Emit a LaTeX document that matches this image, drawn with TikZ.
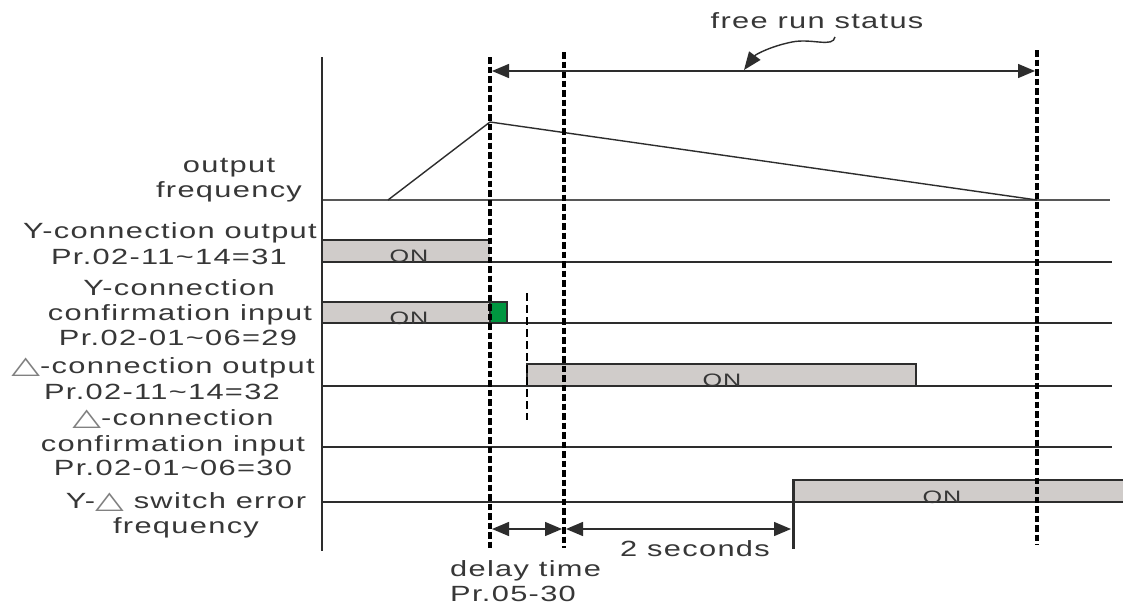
\documentclass[tikz,border=0pt]{standalone}
\usepackage{fontspec}
\usepackage{graphicx}
\setmainfont{Liberation Sans}[FakeStretch=1.4,LetterSpace=6]
\newfontfamily\symf{DejaVu Sans}
\usetikzlibrary{arrows.meta}
\definecolor{ink}{RGB}{45,45,45}
\definecolor{txt}{RGB}{55,55,55}
\definecolor{ongray}{RGB}{208,204,202}
\definecolor{ongreen}{RGB}{0,150,64}
\newcommand{\tri}{{\color{gray}\symf\scalebox{1.7}[1.1]{△}}}
\begin{document}
\begin{tikzpicture}[x=1pt,y=-1pt,
  lbl/.style={anchor=base,inner sep=0pt,text=txt,font=\fontsize{22}{26}\selectfont},
  onlbl/.style={anchor=base,inner sep=0pt,text=txt,font=\fontsize{18}{20}\selectfont},
  baseln/.style={draw=ink,line width=1.4pt},
  tdash/.style={draw=black,line width=4.5pt,dash pattern=on 6.5pt off 3pt},
  thdash/.style={draw=black,line width=1.5pt,dash pattern=on 8pt off 4pt},
  dimarrow/.style={draw=ink,line width=1.4pt,{Triangle[length=17pt,width=14pt]}-{Triangle[length=17pt,width=14pt]}},
]
\useasboundingbox (0,0) rectangle (1123,608);
\fill[white] (0,0) rectangle (1123,608);

% boxes
\fill[ongray] (322,240) rectangle (490,262);
\draw[ink,line width=1.4pt] (322,240) -- (490,240);
\fill[ongray] (322,302) rectangle (490,323);
\draw[ink,line width=1.4pt] (322,302) -- (490,302);
\draw[fill=ongreen,draw=ink,line width=1.4pt] (490,302) rectangle (507,323);
\fill[ongray] (527,364) rectangle (916,386);
\draw[ink,line width=1.4pt] (527,386) -- (527,364) -- (916,364) -- (916,386);
\fill[ongray] (793,480) rectangle (1123,502);
\draw[ink,line width=1.4pt] (793,480) -- (1123,480);

% baselines
\draw[baseln,draw=ink!80] (322,200) -- (1110,200);
\draw[baseln] (322,262) -- (1112,262);
\draw[baseln] (322,323) -- (1112,323);
\draw[baseln] (322,386) -- (1112,386);
\draw[baseln] (322,447) -- (1112,447);
\draw[baseln] (322,502) -- (1123,502);

% axis
\draw[ink,line width=2pt] (322,57) -- (322,551);

% output frequency curve
\draw[ink,line width=1.4pt] (388,200) -- (490,122) -- (1037,200);

% ON labels
\node[onlbl] (on1) at (409,262) {ON};
\node[onlbl] (on2) at (409,324) {ON};
\node[onlbl] (on3) at (722,386) {ON};
\node[onlbl] (on4) at (942,503) {ON};

% thin dashed
\draw[thdash] (527,293) -- (527,420);

% thick dashed
\draw[tdash] (490,57) -- (490,548);
\draw[tdash] (564,52) -- (564,548);
\draw[tdash] (1037,50) -- (1037,545);

% error switch vertical
\draw[ink,line width=3pt] (793,479) -- (793,549);

% free run arrow
\coordinate (fa) at (492,71);
\coordinate (fb) at (1035,71);
\draw[dimarrow] (fa) -- (fb);
\node[lbl] (frs) at (817,28) {free run status};
\draw[ink,line width=1.4pt,-{Triangle[length=18pt,width=14pt]}] (835,37) .. controls (833,48) and (812,38) .. (792,42) .. controls (772,46) and (756,54) .. (744,70);

% delay arrows
\coordinate (d1) at (492,529);
\coordinate (d2) at (562,529);
\coordinate (d3) at (566,529);
\coordinate (d4) at (791,529);
\draw[dimarrow] (d1) -- (d2);
\draw[dimarrow] (d3) -- (d4);
\node[lbl] (sec) at (695,556) {2 seconds};
\node[lbl,anchor=base west] (dly) at (450,576) {delay time};
\node[lbl,anchor=base west] (pr530) at (450,601) {Pr.05-30};

% left labels
\node[lbl] (l1a) at (229,172) {output};
\node[lbl] (l1b) at (229,197) {frequency};
\node[lbl] (l2a) at (170,238) {Y-connection output};
\node[lbl] (l2b) at (169,264) {Pr.02-11\char"007E 14=31};
\node[lbl] (l3a) at (179,295) {Y-connection};
\node[lbl] (l3b) at (180,320) {confirmation input};
\node[lbl] (l3c) at (178,345) {Pr.02-01\char"007E 06=29};
\node[lbl] (l4a) at (163,373) {\tri-connection output};
\node[lbl] (l4b) at (162,399) {Pr.02-11\char"007E 14=32};
\node[lbl] (l5a) at (173,425) {\tri-connection};
\node[lbl] (l5b) at (173,451) {confirmation input};
\node[lbl] (l5c) at (173,475) {Pr.02-01\char"007E 06=30};
\node[lbl] (l6a) at (186,508) {Y-\tri\ switch error};
\node[lbl] (l6b) at (186,533) {frequency};
\end{tikzpicture}
\end{document}
